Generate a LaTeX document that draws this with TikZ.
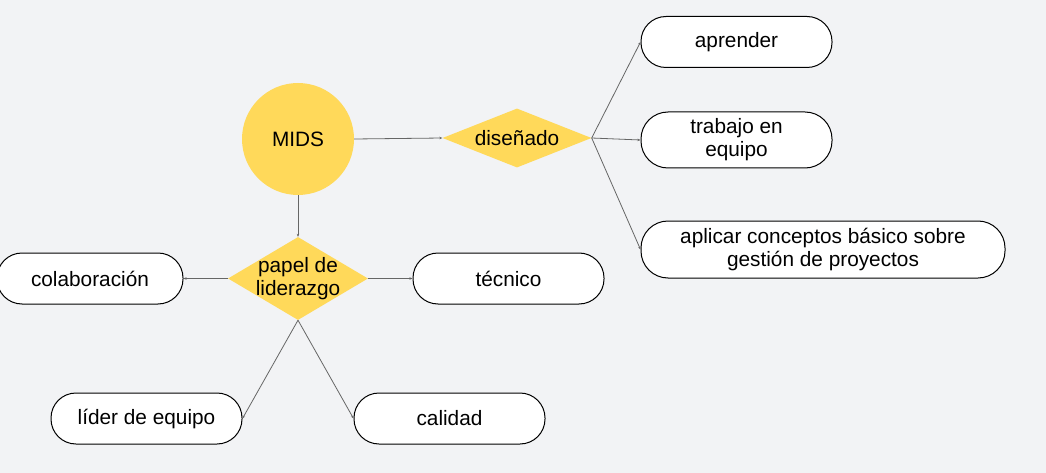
\documentclass[tikz,border=0pt]{standalone}
\usepackage{fontspec}
\setmainfont{Liberation Sans}
\usetikzlibrary{shapes.geometric,arrows.meta}
\definecolor{bgc}{HTML}{F2F3F5}
\definecolor{yel}{HTML}{FFD95A}
\definecolor{lnc}{HTML}{666666}
\tikzset{
  pill/.style={draw=black, line width=1pt, fill=white, rounded corners=25pt,
    minimum height=51pt, inner sep=0pt, align=center,
    font=\fontsize{20.8}{23}\selectfont},
  dia/.style={diamond, fill=yel, inner sep=-14pt, align=center,
    font=\fontsize{20.8}{23}\selectfont},
  conn/.style={draw=lnc, line width=0.8pt, -{Stealth[length=3pt,width=2.5pt]}}
}
\begin{document}
\begin{tikzpicture}[x=1pt,y=-1pt]
\fill[bgc] (0,0) rectangle (1046,473);
\useasboundingbox (0,0) rectangle (1046,473);
\node[circle, fill=yel, minimum size=112pt, inner sep=0pt, font=\fontsize{20.8}{23}\selectfont] (mids) at (298,139) {MIDS};
\node[dia, minimum width=149pt, minimum height=59pt] (dis) at (517,138) {diseñado};
\node[dia, minimum width=140pt, minimum height=83pt] (pap) at (298,278.5) {papel de\\liderazgo};
\node[pill, minimum width=191pt] (apr) at (736.5,42) {aprender};
\node[pill, minimum width=191pt, minimum height=56pt, rounded corners=27pt] (tra) at (736.5,140) {trabajo en\\equipo};
\node[pill, minimum width=364pt, minimum height=57pt, rounded corners=27pt] (apl) at (823,249.5) {aplicar conceptos básico sobre\\gestión de proyectos};
\node[pill, minimum width=191pt] (tec) at (508.5,278.5) {técnico};
\node[pill, minimum width=186pt] (col) at (90,278.5) {colaboración};
\node[pill, minimum width=191pt] (lid) at (146.5,418.5) {líder de equipo};
\node[pill, minimum width=191pt] (cal) at (449.5,418.5) {calidad};
\draw[conn] (mids.east) -- (dis.west);
\draw[conn] (mids.south) -- (pap.north);
\draw[conn] (dis.east) -- (apr.west);
\draw[conn] (dis.east) -- (tra.west);
\draw[conn] (dis.east) -- (apl.west);
\draw[conn] (pap.east) -- (tec.west);
\draw[conn] (pap.west) -- (col.east);
\draw[conn] (pap.south) -- (lid.east);
\draw[conn] (pap.south) -- (cal.west);
\end{tikzpicture}
\end{document}
